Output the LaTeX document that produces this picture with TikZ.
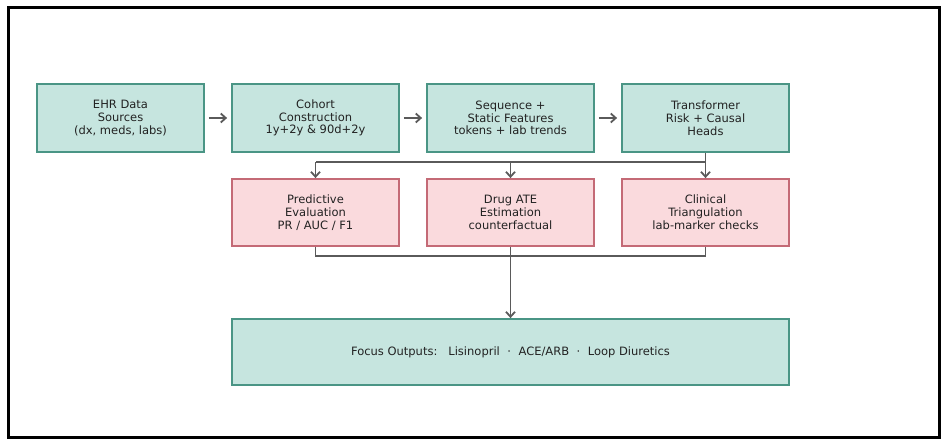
\documentclass[tikz,border=0pt]{standalone}
\usepackage{fontspec}
\setmainfont{DejaVu Sans}
\usetikzlibrary{arrows.meta}
\definecolor{tealfill}{HTML}{C6E5DF}
\definecolor{tealline}{HTML}{4A9585}
\definecolor{pinkfill}{HTML}{FADADD}
\definecolor{pinkline}{HTML}{C46A76}
\definecolor{wire}{HTML}{5A5A5A}
\definecolor{inktext}{HTML}{222222}
\tikzset{
  stagebox/.style={draw=tealline, fill=tealfill, line width=1.8pt,
    minimum width=167pt, minimum height=68pt, inner sep=0pt, align=center,
    text=inktext, font=\fontsize{11.5}{12.8}\selectfont},
  evalbox/.style={stagebox, draw=pinkline, fill=pinkfill, minimum height=67pt},
  wireline/.style={draw=wire, line width=1.8pt},
  flow/.style={wireline, -{Straight Barb[length=5pt,width=9pt]}}
}
\begin{document}
\begin{tikzpicture}[x=1pt,y=-1pt]%
% page and frame
\useasboundingbox (0,0) rectangle (947,444);
\draw[line width=3pt] (8,8) rectangle (939,437);
% pipeline stages
\node[stagebox] (ehr) at (120.5,118) {EHR Data\\Sources\\(dx, meds, labs)};
\node[stagebox] (cohort) at (315.5,118) {Cohort\\Construction\\1y+2y \& 90d+2y};
\node[stagebox] (feat) at (510.5,118) {Sequence +\\Static Features\\tokens + lab trends};
\node[stagebox] (trans) at (705.5,118) {Transformer\\Risk + Causal\\Heads};
% evaluation stages
\node[evalbox] (pred) at (315.5,212.5) {Predictive\\Evaluation\\PR / AUC / F1};
\node[evalbox] (ate) at (510.5,212.5) {Drug ATE\\Estimation\\counterfactual};
\node[evalbox] (clin) at (705.5,212.5) {Clinical\\Triangulation\\lab-marker checks};
% outputs
\node[stagebox, minimum width=557pt, minimum height=66pt] (focus) at (510.5,352)
  {Focus Outputs:\hspace{11pt}Lisinopril\hspace{7.5pt}·\hspace{7.5pt}ACE/ARB\hspace{7.5pt}·\hspace{7.5pt}Loop Diuretics};
\coordinate (split) at (705.5,162);
\coordinate (gather) at (510.5,256);
% connectors
\draw[flow] ([xshift=4pt]ehr.east) -- ([xshift=-4pt]cohort.west);
\draw[flow] ([xshift=4pt]cohort.east) -- ([xshift=-4pt]feat.west);
\draw[flow] ([xshift=4pt]feat.east) -- ([xshift=-4pt]trans.west);
\draw[wireline] (trans.south) -- (split) -- (pred.north |- split);
\draw[flow] (pred.north |- split) -- (pred.north);
\draw[flow] (ate.north |- split) -- (ate.north);
\draw[flow] (split) -- (clin.north);
\draw[wireline] (pred.south) -- (pred.south |- gather) -- (clin.south |- gather) -- (clin.south);
\draw[flow] (ate.south) -- (focus.north);
\end{tikzpicture}
\end{document}
